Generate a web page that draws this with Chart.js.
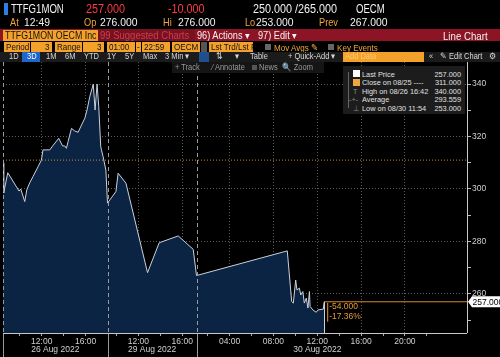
<!DOCTYPE html>
<html><head><meta charset="utf-8">
<script src="https://cdn.jsdelivr.net/npm/chart.js@4.4.0/dist/chart.umd.min.js"></script>
<style>
html,body{margin:0;padding:0;background:#000;}
#wrap{position:relative;width:500px;height:357px;overflow:hidden;background:#000;font-family:"Liberation Sans",sans-serif;}
canvas{position:absolute;left:0;top:0;}
.t{position:absolute;white-space:nowrap;line-height:1;transform-origin:0 0;transform:scaleX(var(--sx,1));}
.b{position:absolute;}
.w{color:#f2f2f2}.o{color:#f2a53a}.r{color:#ff3a45}
.h1{font-size:12px;--sx:.8}.h2{font-size:11.5px;--sx:.8}
.cell{position:absolute;background:#f4a12c;color:#111;font-size:9.5px;line-height:10px;height:10px;white-space:nowrap;padding:0 2px;box-sizing:border-box;overflow:hidden;}
.cell span{display:inline-block;transform-origin:0 0;transform:scaleX(var(--sx,.85));}
.tb{position:absolute;color:#d8d8d8;font-size:8.5px;line-height:11px;white-space:nowrap;transform-origin:0 0;transform:scaleX(.88);}
.lg{position:absolute;color:#e0e0e0;font-size:8px;line-height:9px;white-space:nowrap;transform-origin:0 0;transform:scaleX(.92);}
.lgr{position:absolute;color:#e0e0e0;font-size:8px;line-height:9px;white-space:nowrap;transform-origin:100% 0;transform:scaleX(.92);text-align:right;}
</style></head><body>
<div id="wrap">
<canvas id="c" width="500" height="357"></canvas>

<!-- row 1 -->
<div class="b" style="left:4px;top:3px;width:4px;height:12px;background:#2d7fe6"></div>
<span class="t w h1" style="left:11px;top:3px">TTFG1MON</span>
<span class="t r h1" style="left:86px;top:3px;--sx:.9">257.000</span>
<span class="t r h1" style="left:168px;top:3px;--sx:.9">-10.000</span>
<span class="t w h1" style="left:253px;top:3px;--sx:.9">250.000 /265.000</span>
<span class="t w h1" style="left:356px;top:3px">OECM</span>
<!-- row 2 -->
<span class="t o h2" style="left:10px;top:17px">At</span><span class="t w h2" style="left:24px;top:17px;--sx:.9">12:49</span>
<span class="t o h2" style="left:84px;top:17px">Op</span><span class="t w h2" style="left:100px;top:17px;--sx:.9">276.000</span>
<span class="t o h2" style="left:163px;top:17px">Hi</span><span class="t w h2" style="left:178px;top:17px;--sx:.9">276.000</span>
<span class="t o h2" style="left:245px;top:17px">Lo</span><span class="t w h2" style="left:256px;top:17px;--sx:.9">253.000</span>
<span class="t o h2" style="left:319px;top:17px">Prev</span><span class="t w h2" style="left:350px;top:17px;--sx:.9">267.000</span>
<!-- row 3 -->
<div class="b" style="left:0;top:29px;width:500px;height:12px;background:#8c1424"></div>
<div class="b" style="left:98px;top:29px;width:97px;height:12px;background:#7a1120"></div>
<div class="cell" style="left:3px;top:30px;width:95px;height:11px;font-size:10px;line-height:11px"><span style="--sx:.88">TTFG1MON OECM Inc</span></div>
<span class="t" style="left:100px;top:30.5px;font-size:10px;color:#c4404f;--sx:.95">99 Suggested Charts</span>
<span class="t w" style="left:197px;top:30.5px;font-size:10px;--sx:.92">96) Actions ▾</span>
<span class="t w" style="left:258px;top:30.5px;font-size:10px;--sx:.92">97) Edit ▾</span>
<span class="t w" style="left:443px;top:30.5px;font-size:10.5px;--sx:.92">Line Chart</span>
<!-- row 4 -->
<div class="cell" style="left:4px;top:42px;width:26px"><span>Period</span></div>
<div class="cell" style="left:31px;top:42px;width:21px;text-align:right"><span>3</span></div>
<div class="cell" style="left:55px;top:42px;width:27px"><span>Range</span></div>
<div class="cell" style="left:83px;top:42px;width:21px;text-align:right"><span>3</span></div>
<div class="cell" style="left:107px;top:42px;width:28px"><span>01:00</span></div>
<div class="cell" style="left:136px;top:42px;width:5px;padding:0 1px"><span>-</span></div>
<div class="cell" style="left:142px;top:42px;width:28px"><span>22:59</span></div>
<div class="cell" style="left:172px;top:42px;width:28px"><span>OECM</span></div>
<div class="b" style="left:201px;top:42px;width:6px;height:10px;background:#555"></div>
<div class="cell" style="left:209px;top:42px;width:44px"><span>Lst Trd/Lst P</span></div>
<div class="b" style="left:265px;top:44px;width:6px;height:6px;background:#666"></div>
<span class="t o" style="left:274px;top:42.5px;font-size:9.5px;--sx:.85">Mov Avgs ✎</span>
<div class="b" style="left:328px;top:44px;width:6px;height:6px;background:#666"></div>
<span class="t o" style="left:337px;top:42.5px;font-size:9.5px;--sx:.85">Key Events</span>
<!-- row 5 -->
<div class="b" style="left:0;top:52px;width:500px;height:10px;background:#1b1b1b"></div>
<div class="b" style="left:22px;top:52px;width:18px;height:10px;background:#1f66cc"></div>
<span class="tb" style="left:9px;top:51px">1D</span>
<span class="tb" style="left:27px;top:51px;color:#fff">3D</span>
<span class="tb" style="left:46px;top:51px">1M</span>
<span class="tb" style="left:65px;top:51px">6M</span>
<span class="tb" style="left:84px;top:51px">YTD</span>
<span class="tb" style="left:107px;top:51px">1Y</span>
<span class="tb" style="left:125px;top:51px">5Y</span>
<span class="tb" style="left:143px;top:51px">Max</span>
<span class="tb" style="left:165px;top:51px">3 Min ▾</span>
<div class="b" style="left:199px;top:52px;width:10px;height:10px;background:#1f4f8f"></div>
<span class="tb" style="left:216px;top:51px">⇅</span>
<span class="tb" style="left:235px;top:51px">▾</span>
<span class="tb" style="left:250px;top:51px">Table</span>
<span class="tb" style="left:288px;top:51px">+ Quick-Add ▾</span>
<div class="b" style="left:343px;top:52px;width:81px;height:10px;background:#f4a12c"></div>
<span class="tb" style="left:345px;top:51px;color:#ffc870">Add Data</span>
<span class="tb" style="left:429px;top:51px">«</span>
<span class="tb" style="left:440px;top:51px">✎ Edit Chart</span>
<span class="tb" style="left:489px;top:51px">⚙</span>
<!-- row 6 floating toolbar -->
<div class="b" style="left:172px;top:62px;width:152px;height:11px;background:#151515"></div>
<span class="tb" style="left:175px;top:62px;color:#9a9a9a">+ Track</span>
<span class="tb" style="left:212px;top:62px;color:#9a9a9a">⁄ Annotate</span>
<div class="b" style="left:252px;top:65px;width:5px;height:5px;background:#555"></div>
<span class="tb" style="left:259px;top:62px;color:#9a9a9a">News</span>
<span class="tb" style="left:282px;top:62px;color:#9a9a9a">🔍 Zoom</span>
<!-- legend -->
<div class="b" style="left:343px;top:66px;width:122px;height:48px;background:#1c1c1c"></div>
<div class="b" style="left:348px;top:72px;width:1px;height:36px;background:#666"></div>
<div class="b" style="left:353px;top:70px;width:7px;height:7px;background:#fff"></div>
<div class="b" style="left:353px;top:79px;width:7px;height:7px;background:#f2a53a"></div>
<div id="legend"></div>
</div>

<script>
// ---------------- data ----------------
const sessionDates  = ['08/26', '08/29', '08/30'];
const sessionLabels = ['26 Aug 2022', '29 Aug 2022', '30 Aug 2022'];
const sessionStart  = ['08:28', '09:11', '01:00'];
const sessionEnd    = ['18:00', '17:19', '23:00'];

const times = [
  '08/26 08:28','08/26 08:32','08/26 08:54','08/26 09:56','08/26 10:05','08/26 10:27','08/26 10:38',
  '08/26 10:54','08/26 11:12','08/26 11:40','08/26 11:58','08/26 12:07','08/26 12:44','08/26 13:00',
  '08/26 13:33','08/26 13:54','08/26 14:06','08/26 14:15','08/26 14:24','08/26 14:43','08/26 15:01',
  '08/26 15:19','08/26 15:38','08/26 15:56','08/26 16:08','08/26 16:23','08/26 16:42','08/26 16:52',
  '08/26 17:03','08/26 17:12','08/26 17:23','08/26 17:27','08/26 17:36','08/26 17:51',
  '08/29 09:11','08/29 09:57','08/29 10:09','08/29 10:52','08/29 12:50','08/29 13:54','08/29 15:38',
  '08/29 17:00','08/29 17:18',
  '08/30 09:16','08/30 09:40','08/30 09:49','08/30 10:02','08/30 10:09','08/30 10:22','08/30 10:30',
  '08/30 10:41','08/30 10:49','08/30 11:00','08/30 11:09','08/30 11:17','08/30 11:21','08/30 11:36',
  '08/30 11:54','08/30 12:05','08/30 12:33','08/30 12:38'
];
const prices = [
  310, 298.5, 306.2, 299.2, 300, 295.2, 299.6,
  302.3, 304.7, 308.5, 311, 314.9, 314.9, 316.4,
  319.3, 316.4, 316.4, 315.5, 318, 323.1, 322.1,
  321.6, 324.4, 327, 330.1, 335.2, 340, 330.1,
  340, 331.4, 316.1, 314.9, 312.3, 307.2,
  294.6, 299, 306, 302.2, 268.1, 279.5, 282.1,
  277, 267,
  276.4, 257.1, 256.5, 265.3, 261.5, 262.2, 259.6,
  260.9, 256.5, 258.4, 254.6, 260.9, 255.2, 253.9,
  253, 253.9, 254.2, 257
];
const prevCloseLabel = 'Close on 08/25';
const prevClose = 311;
const averagePrice = 293.559;
const yTicks = [250, 260, 270, 280, 290, 300, 310, 320, 330, 340];
const yMin = 245.1, yMax = 348.4;
const rightPadHours = 2.66;

// ---------------- helpers ----------------
function hm(s){ const p = s.split(':').map(Number); return p[0] + p[1]/60; }
const sessLen = sessionStart.map((s,i) => hm(sessionEnd[i]) - hm(s));
const sessOff = sessLen.map((_,i) => sessLen.slice(0,i).reduce((a,b)=>a+b,0));
const xMax = sessOff[2] + sessLen[2] + rightPadHours;
function toX(t){
  const [d, hh] = t.split(' ');
  const i = sessionDates.indexOf(d);
  return sessOff[i] + hm(hh) - hm(sessionStart[i]);
}
const series = times.map((t,i) => ({x: toX(t), y: prices[i]}));
const lastPrice = prices[prices.length-1];
const lastX = series[series.length-1].x;

// x ticks every 2h inside each session, labels every 4h
const xTicks = [];
sessionDates.forEach((d,i) => {
  const s = hm(sessionStart[i]), e = hm(sessionEnd[i]);
  for (let h = Math.ceil(s/2)*2; h < e; h += 2) {
    if (h <= s) continue;
    xTicks.push({value: sessOff[i] + h - s, major: h % 4 === 0, label: (h<10?'0':'') + h + ':00'});
  }
});

// legend
const hiIdx = prices.indexOf(Math.max(...prices));
const loIdx = prices.indexOf(Math.min(...prices));
const legendRows = [
  ['Last Price', lastPrice.toFixed(3)],
  [prevCloseLabel + ' ----', prevClose.toFixed(3)],
  ['High on ' + times[hiIdx], prices[hiIdx].toFixed(3)],
  ['Average', averagePrice.toFixed(3)],
  ['Low on ' + times[loIdx], prices[loIdx].toFixed(3)]
];
const icons = ['', '', 'T', '-+-', '⊥'];
let lh = '';
legendRows.forEach((r,i) => {
  const top = 69.5 + i*8.6;
  if (icons[i]) lh += `<span class="lg" style="left:${i===3?349:353}px;top:${top}px;color:#888">${icons[i]}</span>`;
  lh += `<span class="lg" style="left:362px;top:${top}px">${r[0]}</span>`;
  lh += `<span class="lgr" style="left:411px;width:50px;top:${top}px">${r[1]}</span>`;
});
document.getElementById('legend').innerHTML = lh;

const FONT = '"Liberation Sans",sans-serif';

const overlay = {
  id: 'overlay',
  afterDraw(chart){
    const {ctx, chartArea: a, scales: {x, y}} = chart;
    ctx.save();
    // session dividers
    sessOff.forEach((o,i) => {
      const px = Math.round(x.getPixelForValue(o)) + 0.5;
      ctx.strokeStyle = '#9a9a9a'; ctx.lineWidth = 1;
      ctx.setLineDash([4,3]);
      ctx.beginPath(); ctx.moveTo(px, a.top); ctx.lineTo(px, a.bottom); ctx.stroke();
      ctx.setLineDash([]);
      ctx.beginPath(); ctx.moveTo(px, a.bottom); ctx.lineTo(px, 357); ctx.stroke();
    });
    // axis lines
    ctx.strokeStyle = '#c8c8c8';
    ctx.beginPath(); ctx.moveTo(a.left, a.bottom + 0.5); ctx.lineTo(a.right, a.bottom + 0.5); ctx.stroke();
    ctx.beginPath(); ctx.moveTo(a.right + 0.5, a.top); ctx.lineTo(a.right + 0.5, a.bottom); ctx.stroke();
    // date labels, centered in each session
    ctx.fillStyle = '#d0d0d0'; ctx.font = '8.5px ' + FONT;
    ctx.textAlign = 'center'; ctx.textBaseline = 'middle';
    sessionLabels.forEach((lab,i) => {
      const c = (x.getPixelForValue(sessOff[i]) + x.getPixelForValue(sessOff[i] + sessLen[i])) / 2;
      ctx.fillText(lab, c, 349.5);
    });
    // right edge of filled area
    const lx = x.getPixelForValue(lastX), ly = y.getPixelForValue(lastPrice);
    ctx.strokeStyle = '#c9d1dc';
    ctx.beginPath(); ctx.moveTo(Math.round(lx)+0.5, ly); ctx.lineTo(Math.round(lx)+0.5, a.bottom); ctx.stroke();
    // change text
    const chg = lastPrice - prevClose;
    const pct = chg / prevClose * 100;
    ctx.fillStyle = '#e49a3a'; ctx.font = '8.5px ' + FONT; ctx.textAlign = 'left';
    ctx.fillText(chg.toFixed(3), lx + 5, ly + 5);
    ctx.fillText(pct.toFixed(2) + '%', lx + 5, ly + 15);
    ctx.fillRect(lx + 3, ly + 1, 1, 19);
    // last price tag
    const tx = a.right + 1;
    ctx.fillStyle = '#ffffff';
    ctx.beginPath();
    ctx.moveTo(tx, ly);
    ctx.lineTo(tx + 4, ly - 5.5);
    ctx.lineTo(500, ly - 5.5);
    ctx.lineTo(500, ly + 5.5);
    ctx.lineTo(tx + 4, ly + 5.5);
    ctx.closePath(); ctx.fill();
    ctx.fillStyle = '#000'; ctx.font = '8.5px ' + FONT; ctx.textAlign = 'left';
    ctx.fillText(lastPrice.toFixed(3), tx + 4.5, ly + 0.5);
    ctx.restore();
  }
};

new Chart(document.getElementById('c'), {
  type: 'line',
  data: {
    datasets: [
      {data: [{x:0, y:prevClose}, {x:xMax, y:prevClose}], borderColor:'#c98a2c', borderWidth:1, borderDash:[1,2], pointRadius:0, fill:false},
      {data: [{x:lastX, y:lastPrice}, {x:xMax, y:lastPrice}], borderColor:'#d98a2c', borderWidth:1, pointRadius:0, fill:false},
      {data: series, borderColor:'#c9d1dc', borderWidth:1, pointRadius:0, tension:0, fill:'start', backgroundColor:'#0b2443'}
    ]
  },
  options: {
    responsive: false, animation: false, devicePixelRatio: 1,
    layout: {padding: {top: 62, left: 3, right: 0, bottom: 0}},
    plugins: {legend: {display:false}, tooltip: {enabled:false}},
    scales: {
      x: {
        type: 'linear', min: 0, max: xMax, z: 1,
        afterBuildTicks(s){ s.ticks = xTicks.map(t => ({value: t.value, major: t.major})); },
        afterFit(s){ s.height = 24; },
        grid: {color: c => (c.tick && c.tick.major) ? '#5c5c5c' : 'transparent', tickColor:'#aaa', tickLength:3, lineWidth:1},
        border: {display:false, dash:[1,2]},
        ticks: {autoSkip:false, maxRotation:0, padding:1, color:'#d0d0d0', font:{family:FONT, size:8.5},
          callback: (v,i) => xTicks[i] && xTicks[i].major ? xTicks[i].label : ''}
      },
      y: {
        position: 'right', min: yMin, max: yMax, z: 1,
        afterBuildTicks(s){ s.ticks = yTicks.map(v => ({value: v})); },
        afterFit(s){ s.width = 33; },
        grid: {color: c => (c.tick && c.tick.value % 20 === 0) ? '#5c5c5c' : 'transparent', tickColor:'#bbb', tickLength:4},
        border: {display:false, dash:[1,2]},
        ticks: {padding:1, color:'#d0d0d0', font:{family:FONT, size:8.5},
          callback: v => v % 20 === 0 ? String(v) : ''}
      }
    }
  },
  plugins: [overlay]
});
</script>
</body></html>
